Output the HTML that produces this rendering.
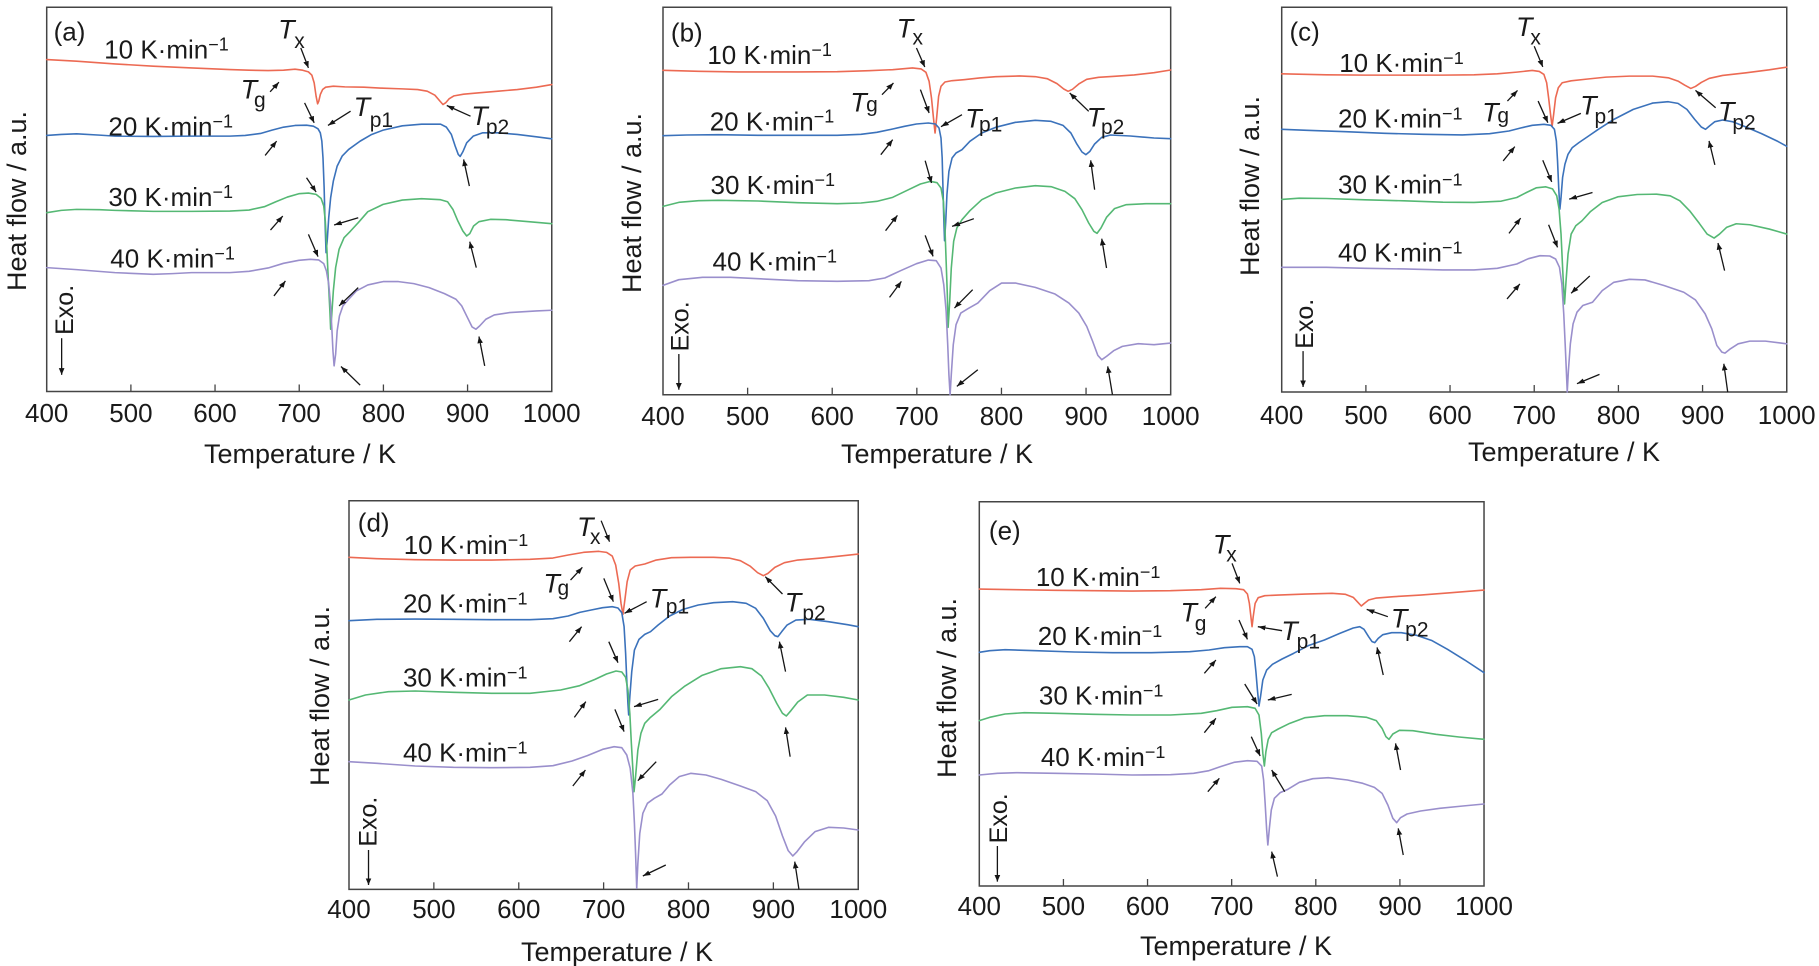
<!DOCTYPE html>
<html><head><meta charset="utf-8"><style>
html,body{margin:0;padding:0;background:#fff;}
body{width:1819px;height:966px;overflow:hidden;}
svg{display:block;}
text{font-family:"Liberation Sans",Arial,sans-serif;fill:#1a1a1a;}
.c{fill:none;stroke-width:1.6;vector-effect:non-scaling-stroke;stroke-linejoin:round;stroke-linecap:round;}
.r{stroke:#EC6A53}.b{stroke:#3B72BB}.g{stroke:#55B874}.p{stroke:#9A8FCC}
.ar{stroke:#151515;stroke-width:1.3;vector-effect:non-scaling-stroke;fill:none;marker-end:url(#ah);}
.bx{fill:none;stroke:#454545;stroke-width:1.5;vector-effect:non-scaling-stroke;}
.tk{stroke:#454545;stroke-width:1.3;vector-effect:non-scaling-stroke;}
.lab{font-size:26px}.T{font-size:27px;font-style:italic}.s{font-size:21px}
.pl{font-size:26px}.exo{font-size:25px}.tl{font-size:26px}.ax{font-size:27px}
.sup{font-size:18px}
</style></head><body>
<svg width="1819" height="966" viewBox="0 0 1819 966" xmlns="http://www.w3.org/2000/svg">
<defs>
<marker id="ah" viewBox="0 0 10 10" refX="10" refY="5" markerWidth="20" markerHeight="20" markerUnits="userSpaceOnUse" orient="auto">
<path d="M0,1.3 L10,5 L0,8.7 z" fill="#151515"/></marker>
</defs>

<!-- ================= PANEL A ================= -->
<g transform="matrix(0.3832 0 0 0.3329 -0.05 1.31)">
<rect class="bx" x="122" y="18" width="1318" height="1154"/>
<line class="tk" x1="341.7" y1="1172" x2="341.7" y2="1151"/><line class="tk" x1="561.3" y1="1172" x2="561.3" y2="1151"/><line class="tk" x1="781" y1="1172" x2="781" y2="1151"/><line class="tk" x1="1000.7" y1="1172" x2="1000.7" y2="1151"/><line class="tk" x1="1220.3" y1="1172" x2="1220.3" y2="1151"/>
<polyline class="c r" points="122,175 200,180 300,188 400,195 500,200 600,205 650,207 700,208 740,207 770,204 790,207 805,212 814,222 820,245 825,285 829,308 832,300 836,280 842,265 850,258 870,255 900,257 950,258 1000,261 1050,263 1090,265 1115,270 1135,282 1150,302 1156,310 1163,305 1172,293 1185,284 1210,279 1250,275 1300,270 1350,265 1400,258 1440,250"/>
<polyline class="c b" points="122,403 160,400 200,398 260,402 300,405 400,406 500,405 600,405 640,403 680,397 710,387 740,378 770,373 800,372 818,375 830,383 836,395 840,420 843,470 846,560 848,650 850,720 851,755 854,720 858,650 863,590 870,540 880,495 893,465 910,445 940,420 970,400 1000,387 1050,374 1100,369 1150,369 1165,378 1178,400 1188,435 1196,460 1201,466 1208,452 1218,425 1235,405 1260,395 1300,395 1350,400 1400,407 1440,413"/>
<polyline class="c g" points="122,635 160,628 200,625 260,626 300,628 400,631 500,631 600,630 650,627 690,617 720,602 750,588 780,578 805,576 825,580 838,592 845,615 849,660 853,740 857,840 861,930 863,985 866,940 870,870 876,800 885,745 898,710 915,690 935,665 960,632 1000,610 1050,597 1100,593 1150,596 1168,602 1182,625 1195,660 1208,690 1218,705 1226,698 1236,675 1250,662 1280,655 1320,656 1380,662 1440,668"/>
<polyline class="c p" points="122,800 200,806 300,815 400,820 450,818 500,815 600,815 650,811 700,801 740,787 780,778 810,775 832,777 845,788 852,810 858,850 862,900 866,980 869,1050 872,1095 876,1060 880,990 886,945 895,915 910,895 930,870 960,852 1000,842 1040,842 1080,848 1120,860 1160,878 1190,895 1205,915 1220,950 1232,978 1242,985 1252,975 1268,955 1290,942 1330,935 1400,930 1440,928"/>
<line class="ar" x1="785" y1="140" x2="805" y2="200"/>
<line class="ar" x1="705" y1="272" x2="728" y2="243"/>
<line class="ar" x1="915" y1="330" x2="856" y2="373"/>
<line class="ar" x1="1228" y1="345" x2="1166" y2="313"/>
<line class="ar" x1="692" y1="463" x2="722" y2="420"/>
<line class="ar" x1="795" y1="305" x2="820" y2="365"/>
<line class="ar" x1="1225" y1="555" x2="1210" y2="475"/>
<line class="ar" x1="706" y1="687" x2="738" y2="645"/>
<line class="ar" x1="800" y1="530" x2="825" y2="573"/>
<line class="ar" x1="935" y1="650" x2="872" y2="672"/>
<line class="ar" x1="1243" y1="800" x2="1226" y2="722"/>
<line class="ar" x1="715" y1="885" x2="745" y2="840"/>
<line class="ar" x1="805" y1="700" x2="830" y2="767"/>
<line class="ar" x1="935" y1="860" x2="885" y2="915"/>
<line class="ar" x1="940" y1="1153" x2="890" y2="1097"/>
<line class="ar" x1="1265" y1="1095" x2="1250" y2="1007"/>
<line class="ar" x1="161" y1="1012" x2="161" y2="1122"/>
<text class="pl" transform="translate(140 118) scale(2.61 3.004)">(a)</text>
<text class="lab" transform="translate(272 172) scale(2.61 3.004)">10 K·min<tspan class="sup" dy="-8">−1</tspan></text>
<text class="lab" transform="translate(283 403) scale(2.61 3.004)">20 K·min<tspan class="sup" dy="-8">−1</tspan></text>
<text class="lab" transform="translate(283 615) scale(2.61 3.004)">30 K·min<tspan class="sup" dy="-8">−1</tspan></text>
<text class="lab" transform="translate(288 800) scale(2.61 3.004)">40 K·min<tspan class="sup" dy="-8">−1</tspan></text>
<text class="T" transform="translate(726 112) scale(2.61 3.004)">T</text><text class="s" transform="translate(768 140) scale(2.61 3.004)">x</text>
<text class="T" transform="translate(628 292) scale(2.61 3.004)">T</text><text class="s" transform="translate(663 318) scale(2.61 3.004)">g</text>
<text class="T" transform="translate(923 345) scale(2.61 3.004)">T</text><text class="s" transform="translate(965 378) scale(2.61 3.004)">p1</text>
<text class="T" transform="translate(1230 372) scale(2.61 3.004)">T</text><text class="s" transform="translate(1268 398) scale(2.61 3.004)">p2</text>
<text class="exo" transform="translate(190 1002) scale(2.61 3.004) rotate(-90)">Exo.</text>
</g>

<!-- ================= PANEL B ================= -->
<g transform="matrix(0.396 0 0 0.3334 599.64 1.3)">
<rect class="bx" x="160" y="18" width="1282" height="1162"/>
<line class="tk" x1="373.7" y1="1180" x2="373.7" y2="1159"/><line class="tk" x1="587.3" y1="1180" x2="587.3" y2="1159"/><line class="tk" x1="801" y1="1180" x2="801" y2="1159"/><line class="tk" x1="1014.7" y1="1180" x2="1014.7" y2="1159"/><line class="tk" x1="1228.3" y1="1180" x2="1228.3" y2="1159"/>
<polyline class="c r" points="160,207 250,210 350,212 500,212 600,211 680,208 740,205 790,200 812,203 824,213 832,240 838,290 843,350 847,395 851,350 856,285 862,255 872,242 890,238 920,235 960,230 1000,226 1060,224 1100,226 1130,232 1155,247 1172,263 1183,270 1194,264 1210,248 1230,234 1260,228 1300,225 1350,221 1400,214 1442,206"/>
<polyline class="c b" points="160,403 220,401 300,400 400,402 500,402 600,402 660,399 700,393 740,383 770,375 800,368 830,365 848,368 857,380 862,410 865,470 867,560 869,650 871,718 874,660 877,580 882,510 890,470 900,455 915,445 935,420 965,395 1000,378 1050,363 1100,357 1140,360 1170,372 1190,395 1205,428 1218,452 1228,460 1238,450 1250,428 1268,408 1290,401 1340,404 1400,410 1442,412"/>
<polyline class="c g" points="160,615 200,603 250,598 300,597 400,599 500,604 600,607 660,605 700,600 740,588 780,565 810,548 835,540 852,544 862,560 868,600 872,680 875,780 878,880 880,978 884,900 888,800 894,720 902,680 915,655 935,628 965,595 1000,575 1050,560 1100,553 1140,556 1175,570 1200,592 1218,625 1235,665 1248,690 1256,696 1266,680 1280,648 1300,622 1330,610 1380,607 1442,607"/>
<polyline class="c p" points="160,852 200,835 260,828 330,828 400,832 500,838 600,840 680,838 720,830 760,808 800,787 830,776 850,778 862,800 869,850 875,930 879,1030 882,1120 885,1180 888,1120 893,1030 900,970 912,935 930,922 955,905 985,868 1015,845 1050,845 1100,858 1150,878 1185,905 1210,935 1230,975 1245,1020 1258,1062 1268,1075 1280,1065 1298,1048 1320,1035 1360,1027 1400,1030 1442,1025"/>
<line class="ar" x1="800" y1="140" x2="821" y2="197"/>
<line class="ar" x1="713" y1="280" x2="742" y2="245"/>
<line class="ar" x1="915" y1="340" x2="862" y2="376"/>
<line class="ar" x1="1235" y1="330" x2="1187" y2="275"/>
<line class="ar" x1="710" y1="460" x2="740" y2="415"/>
<line class="ar" x1="810" y1="265" x2="832" y2="335"/>
<line class="ar" x1="1250" y1="565" x2="1240" y2="477"/>
<line class="ar" x1="722" y1="688" x2="752" y2="642"/>
<line class="ar" x1="822" y1="478" x2="838" y2="545"/>
<line class="ar" x1="945" y1="652" x2="890" y2="675"/>
<line class="ar" x1="1280" y1="800" x2="1268" y2="712"/>
<line class="ar" x1="732" y1="888" x2="762" y2="840"/>
<line class="ar" x1="822" y1="702" x2="842" y2="765"/>
<line class="ar" x1="942" y1="865" x2="896" y2="920"/>
<line class="ar" x1="955" y1="1105" x2="902" y2="1155"/>
<line class="ar" x1="1295" y1="1180" x2="1283" y2="1095"/>
<line class="ar" x1="200" y1="1058" x2="200" y2="1165"/>
<text class="pl" transform="translate(180 120) scale(2.525 3)">(b)</text>
<text class="lab" transform="translate(272 188) scale(2.525 3)">10 K·min<tspan class="sup" dy="-8">−1</tspan></text>
<text class="lab" transform="translate(278 388) scale(2.525 3)">20 K·min<tspan class="sup" dy="-8">−1</tspan></text>
<text class="lab" transform="translate(280 578) scale(2.525 3)">30 K·min<tspan class="sup" dy="-8">−1</tspan></text>
<text class="lab" transform="translate(285 808) scale(2.525 3)">40 K·min<tspan class="sup" dy="-8">−1</tspan></text>
<text class="T" transform="translate(750 108) scale(2.525 3)">T</text><text class="s" transform="translate(790 130) scale(2.525 3)">x</text>
<text class="T" transform="translate(633 330) scale(2.525 3)">T</text><text class="s" transform="translate(673 330) scale(2.525 3)">g</text>
<text class="T" transform="translate(923 378) scale(2.525 3)">T</text><text class="s" transform="translate(958 390) scale(2.525 3)">p1</text>
<text class="T" transform="translate(1230 375) scale(2.525 3)">T</text><text class="s" transform="translate(1266 398) scale(2.525 3)">p2</text>
<text class="exo" transform="translate(225 1050) scale(2.525 3) rotate(-90)">Exo.</text>
</g>

<!-- ================= PANEL C ================= -->
<g transform="matrix(0.3885 0 0 0.3325 1209.83 1.315)">
<rect class="bx" x="185" y="18" width="1300" height="1157"/>
<line class="tk" x1="401.7" y1="1175" x2="401.7" y2="1154"/><line class="tk" x1="618.3" y1="1175" x2="618.3" y2="1154"/><line class="tk" x1="835" y1="1175" x2="835" y2="1154"/><line class="tk" x1="1051.7" y1="1175" x2="1051.7" y2="1154"/><line class="tk" x1="1268.3" y1="1175" x2="1268.3" y2="1154"/>
<polyline class="c r" points="185,218 300,221 400,222 500,222 600,222 680,221 740,218 790,213 830,208 848,211 860,220 867,245 872,290 877,340 881,376 885,340 890,290 897,260 907,245 930,239 970,234 1020,228 1080,225 1140,225 1180,230 1205,240 1222,252 1238,262 1250,256 1265,244 1285,232 1320,223 1380,215 1440,206 1485,198"/>
<polyline class="c b" points="185,385 250,388 350,392 450,397 550,400 650,402 720,398 770,390 800,381 830,373 860,370 878,373 887,385 892,420 895,480 898,560 901,625 904,590 908,530 914,490 922,460 933,440 950,425 975,405 1000,385 1040,355 1090,325 1140,306 1180,302 1205,307 1228,325 1248,355 1265,378 1276,385 1286,375 1300,362 1320,357 1345,362 1380,378 1420,398 1460,420 1485,436"/>
<polyline class="c g" points="185,596 230,592 300,593 400,597 500,600 600,604 680,605 750,601 790,590 815,575 840,561 865,558 882,564 893,585 899,625 904,700 908,800 911,870 913,910 917,840 922,760 930,700 942,675 958,660 980,632 1010,605 1050,588 1100,581 1150,580 1185,585 1210,600 1235,630 1260,668 1280,700 1298,712 1312,700 1330,680 1355,669 1390,672 1440,685 1485,700"/>
<polyline class="c p" points="185,800 300,800 400,803 500,805 600,808 680,808 740,803 790,790 820,774 850,765 875,766 890,775 900,800 906,850 911,940 915,1040 918,1120 920,1175 923,1110 928,1030 935,970 945,935 960,915 985,905 1010,870 1040,845 1080,836 1120,838 1170,855 1220,875 1250,898 1275,940 1292,985 1305,1035 1318,1055 1326,1058 1340,1045 1360,1030 1390,1022 1430,1022 1485,1030"/>
<line class="ar" x1="835" y1="135" x2="857" y2="197"/>
<line class="ar" x1="766" y1="300" x2="792" y2="268"/>
<line class="ar" x1="955" y1="337" x2="895" y2="367"/>
<line class="ar" x1="1302" y1="320" x2="1250" y2="268"/>
<line class="ar" x1="755" y1="480" x2="785" y2="437"/>
<line class="ar" x1="845" y1="300" x2="870" y2="365"/>
<line class="ar" x1="1300" y1="492" x2="1285" y2="420"/>
<line class="ar" x1="770" y1="698" x2="800" y2="652"/>
<line class="ar" x1="857" y1="478" x2="880" y2="543"/>
<line class="ar" x1="985" y1="575" x2="925" y2="595"/>
<line class="ar" x1="1325" y1="810" x2="1308" y2="727"/>
<line class="ar" x1="765" y1="895" x2="798" y2="850"/>
<line class="ar" x1="872" y1="672" x2="895" y2="740"/>
<line class="ar" x1="978" y1="826" x2="930" y2="878"/>
<line class="ar" x1="1003" y1="1122" x2="945" y2="1150"/>
<line class="ar" x1="1333" y1="1175" x2="1323" y2="1090"/>
<line class="ar" x1="240" y1="1052" x2="240" y2="1160"/>
<text class="pl" transform="translate(205 118) scale(2.574 3.0075)">(c)</text>
<text class="lab" transform="translate(333 213) scale(2.574 3.0075)">10 K·min<tspan class="sup" dy="-8">−1</tspan></text>
<text class="lab" transform="translate(330 380) scale(2.574 3.0075)">20 K·min<tspan class="sup" dy="-8">−1</tspan></text>
<text class="lab" transform="translate(330 578) scale(2.574 3.0075)">30 K·min<tspan class="sup" dy="-8">−1</tspan></text>
<text class="lab" transform="translate(330 783) scale(2.574 3.0075)">40 K·min<tspan class="sup" dy="-8">−1</tspan></text>
<text class="T" transform="translate(788 105) scale(2.574 3.0075)">T</text><text class="s" transform="translate(825 130) scale(2.574 3.0075)">x</text>
<text class="T" transform="translate(701 362) scale(2.574 3.0075)">T</text><text class="s" transform="translate(740 365) scale(2.574 3.0075)">g</text>
<text class="T" transform="translate(953 340) scale(2.574 3.0075)">T</text><text class="s" transform="translate(990 368) scale(2.574 3.0075)">p1</text>
<text class="T" transform="translate(1308 358) scale(2.574 3.0075)">T</text><text class="s" transform="translate(1345 385) scale(2.574 3.0075)">p2</text>
<text class="exo" transform="translate(265 1045) scale(2.574 3.0075) rotate(-90)">Exo.</text>
</g>

<!-- ================= PANEL D ================= -->
<g transform="matrix(0.3826 0 0 0.3333 300.41 480.03)">
<rect class="bx" x="127" y="62" width="1331" height="1166"/>
<line class="tk" x1="348.8" y1="1228" x2="348.8" y2="1207"/><line class="tk" x1="570.7" y1="1228" x2="570.7" y2="1207"/><line class="tk" x1="792.5" y1="1228" x2="792.5" y2="1207"/><line class="tk" x1="1014.3" y1="1228" x2="1014.3" y2="1207"/><line class="tk" x1="1236.2" y1="1228" x2="1236.2" y2="1207"/>
<polyline class="c r" points="127,232 200,236 300,239 400,240 500,240 600,238 660,234 700,225 740,217 780,214 800,217 815,228 824,255 832,310 838,370 843,403 848,360 854,305 862,270 875,258 900,252 930,240 970,233 1020,232 1080,232 1120,234 1150,242 1175,258 1195,278 1210,287 1222,280 1240,262 1265,248 1300,240 1360,234 1410,228 1458,222"/>
<polyline class="c b" points="127,422 200,418 300,417 400,418 500,419 600,419 660,416 700,408 730,397 760,390 790,383 815,380 830,384 840,398 846,440 850,520 853,600 856,670 858,705 861,650 866,575 873,510 885,478 900,463 915,455 935,435 965,408 1000,388 1040,375 1080,368 1130,365 1165,370 1190,385 1210,415 1228,452 1240,467 1248,470 1258,455 1272,435 1295,420 1330,418 1380,425 1430,434 1458,440"/>
<polyline class="c g" points="127,660 170,645 230,635 300,633 400,637 500,640 600,640 680,630 730,617 770,598 800,582 825,573 840,576 850,592 856,630 861,700 865,790 869,870 872,935 876,890 882,810 890,760 900,730 915,712 940,688 970,650 1005,618 1050,586 1100,566 1150,560 1180,566 1205,588 1225,625 1245,670 1260,700 1270,708 1282,692 1300,666 1325,645 1370,645 1420,652 1458,660"/>
<polyline class="c p" points="127,845 200,850 300,858 400,862 500,863 600,862 660,857 710,843 750,827 790,808 820,800 840,803 853,825 862,865 869,940 873,1030 876,1120 879,1225 882,1150 887,1060 895,1000 907,970 925,955 945,942 965,915 990,890 1020,880 1060,885 1100,898 1150,918 1190,935 1220,962 1242,1008 1260,1068 1275,1112 1287,1128 1298,1115 1318,1085 1345,1055 1380,1042 1420,1044 1458,1050"/>
<line class="ar" x1="786" y1="122" x2="808" y2="185"/>
<line class="ar" x1="706" y1="300" x2="737" y2="262"/>
<line class="ar" x1="905" y1="365" x2="847" y2="400"/>
<line class="ar" x1="1260" y1="342" x2="1215" y2="290"/>
<line class="ar" x1="703" y1="485" x2="735" y2="440"/>
<line class="ar" x1="793" y1="295" x2="818" y2="365"/>
<line class="ar" x1="1268" y1="575" x2="1252" y2="485"/>
<line class="ar" x1="716" y1="712" x2="746" y2="665"/>
<line class="ar" x1="806" y1="485" x2="830" y2="548"/>
<line class="ar" x1="935" y1="658" x2="872" y2="680"/>
<line class="ar" x1="1280" y1="830" x2="1268" y2="742"/>
<line class="ar" x1="712" y1="918" x2="745" y2="870"/>
<line class="ar" x1="822" y1="688" x2="846" y2="755"/>
<line class="ar" x1="930" y1="845" x2="882" y2="902"/>
<line class="ar" x1="955" y1="1155" x2="895" y2="1188"/>
<line class="ar" x1="1303" y1="1228" x2="1292" y2="1145"/>
<line class="ar" x1="178" y1="1110" x2="178" y2="1215"/>
<text class="pl" transform="translate(150 155) scale(2.6137 3)">(d)</text>
<text class="lab" transform="translate(270 222) scale(2.6137 3)">10 K·min<tspan class="sup" dy="-8">−1</tspan></text>
<text class="lab" transform="translate(268 398) scale(2.6137 3)">20 K·min<tspan class="sup" dy="-8">−1</tspan></text>
<text class="lab" transform="translate(268 620) scale(2.6137 3)">30 K·min<tspan class="sup" dy="-8">−1</tspan></text>
<text class="lab" transform="translate(268 845) scale(2.6137 3)">40 K·min<tspan class="sup" dy="-8">−1</tspan></text>
<text class="T" transform="translate(723 168) scale(2.6137 3)">T</text><text class="s" transform="translate(757 192) scale(2.6137 3)">x</text>
<text class="T" transform="translate(635 338) scale(2.6137 3)">T</text><text class="s" transform="translate(672 345) scale(2.6137 3)">g</text>
<text class="T" transform="translate(913 383) scale(2.6137 3)">T</text><text class="s" transform="translate(955 400) scale(2.6137 3)">p1</text>
<text class="T" transform="translate(1266 395) scale(2.6137 3)">T</text><text class="s" transform="translate(1312 420) scale(2.6137 3)">p2</text>
<text class="exo" transform="translate(199 1100) scale(2.6137 3) rotate(-90)">Exo.</text>
</g>

<!-- ================= PANEL E ================= -->
<g transform="matrix(0.3847 0 0 0.3333 939.68 480.03)">
<rect class="bx" x="103" y="65" width="1312" height="1153"/>
<line class="tk" x1="321.7" y1="1218" x2="321.7" y2="1197"/><line class="tk" x1="540.3" y1="1218" x2="540.3" y2="1197"/><line class="tk" x1="759" y1="1218" x2="759" y2="1197"/><line class="tk" x1="977.7" y1="1218" x2="977.7" y2="1197"/><line class="tk" x1="1196.3" y1="1218" x2="1196.3" y2="1197"/>
<polyline class="c r" points="103,327 200,329 300,331 400,332 500,333 600,332 680,329 730,325 770,326 790,329 800,342 805,370 809,410 812,440 815,410 820,370 828,353 845,347 880,345 950,342 1020,340 1055,343 1075,352 1088,368 1096,378 1104,370 1115,360 1135,354 1180,350 1250,345 1330,338 1415,330"/>
<polyline class="c b" points="103,517 130,512 170,509 250,512 350,516 450,518 550,518 650,515 700,510 740,503 780,500 800,500 812,508 818,530 822,575 826,630 830,678 834,650 840,600 850,570 865,553 890,537 920,520 960,496 1000,480 1040,460 1075,444 1092,440 1103,448 1115,470 1124,485 1131,488 1140,475 1152,464 1175,458 1200,458 1240,466 1280,482 1320,508 1365,540 1415,578"/>
<polyline class="c g" points="103,722 130,712 170,702 220,698 300,700 400,703 500,705 600,705 680,700 720,692 760,682 800,680 820,685 830,705 836,760 840,820 844,858 848,815 854,778 863,758 880,747 910,730 950,713 1000,707 1060,707 1110,712 1135,722 1150,745 1160,770 1168,778 1178,762 1195,751 1230,752 1290,763 1350,771 1415,778"/>
<polyline class="c p" points="103,885 150,880 200,878 300,880 400,882 500,885 600,884 660,880 700,872 730,860 765,847 800,842 825,844 837,858 842,900 846,970 850,1050 853,1095 857,1045 862,990 870,955 885,938 905,928 935,907 970,896 1010,893 1060,900 1100,910 1130,922 1150,940 1165,975 1178,1015 1188,1028 1198,1013 1215,1002 1250,993 1300,985 1360,978 1415,972"/>
<line class="ar" x1="760" y1="250" x2="780" y2="310"/>
<line class="ar" x1="690" y1="385" x2="718" y2="350"/>
<line class="ar" x1="890" y1="452" x2="827" y2="440"/>
<line class="ar" x1="1165" y1="410" x2="1110" y2="388"/>
<line class="ar" x1="688" y1="580" x2="718" y2="540"/>
<line class="ar" x1="778" y1="420" x2="800" y2="478"/>
<line class="ar" x1="1153" y1="585" x2="1137" y2="502"/>
<line class="ar" x1="688" y1="758" x2="718" y2="715"/>
<line class="ar" x1="793" y1="612" x2="825" y2="672"/>
<line class="ar" x1="915" y1="643" x2="853" y2="660"/>
<line class="ar" x1="1198" y1="870" x2="1185" y2="790"/>
<line class="ar" x1="697" y1="935" x2="727" y2="895"/>
<line class="ar" x1="810" y1="770" x2="833" y2="828"/>
<line class="ar" x1="897" y1="935" x2="863" y2="870"/>
<line class="ar" x1="878" y1="1190" x2="863" y2="1115"/>
<line class="ar" x1="1205" y1="1125" x2="1192" y2="1045"/>
<line class="ar" x1="150" y1="1098" x2="150" y2="1205"/>
<text class="pl" transform="translate(128 178) scale(2.5994 3)">(e)</text>
<text class="lab" transform="translate(250 318) scale(2.5994 3)">10 K·min<tspan class="sup" dy="-8">−1</tspan></text>
<text class="lab" transform="translate(255 495) scale(2.5994 3)">20 K·min<tspan class="sup" dy="-8">−1</tspan></text>
<text class="lab" transform="translate(258 673) scale(2.5994 3)">30 K·min<tspan class="sup" dy="-8">−1</tspan></text>
<text class="lab" transform="translate(263 858) scale(2.5994 3)">40 K·min<tspan class="sup" dy="-8">−1</tspan></text>
<text class="T" transform="translate(710 220) scale(2.5994 3)">T</text><text class="s" transform="translate(745 245) scale(2.5994 3)">x</text>
<text class="T" transform="translate(626 425) scale(2.5994 3)">T</text><text class="s" transform="translate(663 452) scale(2.5994 3)">g</text>
<text class="T" transform="translate(888 480) scale(2.5994 3)">T</text><text class="s" transform="translate(928 505) scale(2.5994 3)">p1</text>
<text class="T" transform="translate(1173 443) scale(2.5994 3)">T</text><text class="s" transform="translate(1210 470) scale(2.5994 3)">p2</text>
<text class="exo" transform="translate(175 1090) scale(2.5994 3) rotate(-90)">Exo.</text>
</g>

<!-- ================= AXIS LABELS (actual px) ================= -->
<g class="tl" text-anchor="middle">
<text x="46.7" y="422">400</text><text x="130.9" y="422">500</text><text x="215" y="422">600</text><text x="299.2" y="422">700</text><text x="383.4" y="422">800</text><text x="467.5" y="422">900</text><text x="551.7" y="422">1000</text>
<text x="663" y="425">400</text><text x="747.6" y="425">500</text><text x="832.2" y="425">600</text><text x="916.9" y="425">700</text><text x="1001.5" y="425">800</text><text x="1086.1" y="425">900</text><text x="1170.7" y="425">1000</text>
<text x="1281.7" y="424">400</text><text x="1365.9" y="424">500</text><text x="1450" y="424">600</text><text x="1534.2" y="424">700</text><text x="1618.4" y="424">800</text><text x="1702.5" y="424">900</text><text x="1786.7" y="424">1000</text>
<text x="349" y="918">400</text><text x="433.9" y="918">500</text><text x="518.8" y="918">600</text><text x="603.7" y="918">700</text><text x="688.5" y="918">800</text><text x="773.4" y="918">900</text><text x="858.3" y="918">1000</text>
<text x="979.3" y="915">400</text><text x="1063.4" y="915">500</text><text x="1147.5" y="915">600</text><text x="1231.7" y="915">700</text><text x="1315.8" y="915">800</text><text x="1399.9" y="915">900</text><text x="1484" y="915">1000</text>
</g>
<g class="ax" text-anchor="middle">
<text x="300" y="463">Temperature / K</text>
<text x="937" y="463">Temperature / K</text>
<text x="1564" y="461">Temperature / K</text>
<text x="617" y="961">Temperature / K</text>
<text x="1236" y="955">Temperature / K</text>
<text transform="translate(26 201) rotate(-90)">Heat flow / a.u.</text>
<text transform="translate(641 203) rotate(-90)">Heat flow / a.u.</text>
<text transform="translate(1259 186) rotate(-90)">Heat flow / a.u.</text>
<text transform="translate(329 696) rotate(-90)">Heat flow / a.u.</text>
<text transform="translate(956 688) rotate(-90)">Heat flow / a.u.</text>
</g>
</svg>
</body></html>
